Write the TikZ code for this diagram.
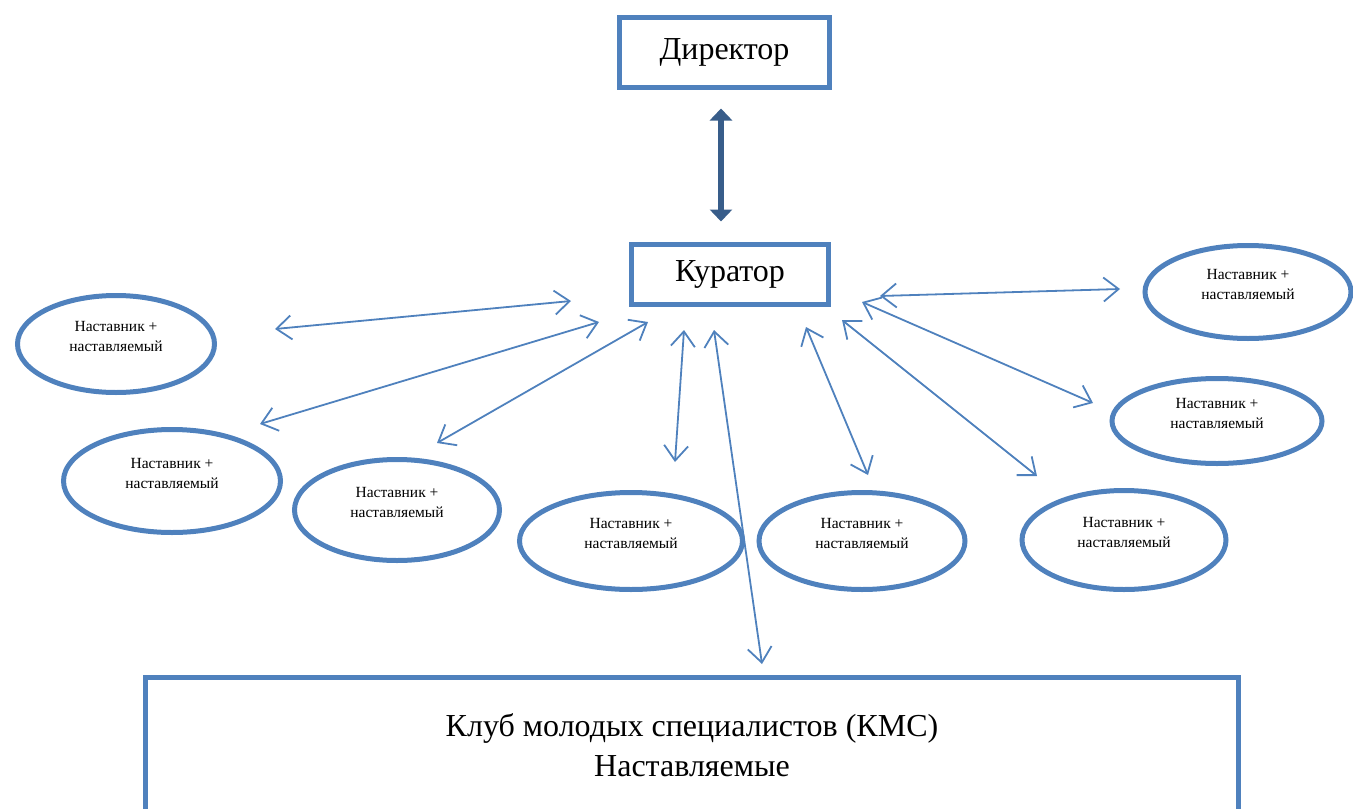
\documentclass[tikz,border=0pt]{standalone}
\usepackage{fontspec}
\setmainfont{Liberation Serif}
\usepackage{tikz}
\usetikzlibrary{arrows.meta,shapes.geometric}

\definecolor{ofblue}{HTML}{4F81BD}
\definecolor{ofdark}{HTML}{385D8A}

\begin{document}
\begin{tikzpicture}[x=1pt,y=1pt]
	\tikzstyle{every node}+=[inner sep=0pt]
	\tikzstyle{box}=[draw=ofblue, line width=5pt, rectangle, align=center, font=\fontsize{32}{40}\selectfont]
	\tikzstyle{pair}=[draw=ofblue, line width=5pt, ellipse, align=center, text depth=16pt, font=\fontsize{15.5}{20}\selectfont]
	\tikzstyle{link}=[draw=ofblue, line width=1.8pt, {Straight Barb[length=15pt,width=24pt]}-{Straight Barb[length=15pt,width=24pt]}]
	\tikzstyle{bigarrow}=[draw=ofdark, line width=6pt, {Triangle[length=12pt,width=22pt]}-{Triangle[length=12pt,width=22pt]}]
	\useasboundingbox (0,0) rectangle (1353,-809);
	% boxes
	\node [box, minimum width=210pt, minimum height=70pt] (dir) at (724.5,-52.5) {Директор};
	\node [box, minimum width=197pt, minimum height=60pt] (kur) at (730,-274.5) {Куратор};
	\node [box, minimum width=1093pt, minimum height=136pt] (kms) at (692,-745) {Клуб молодых специалистов (КМС)\\Наставляемые};
	\draw [bigarrow] ([xshift=-3.5pt,yshift=-18.5pt]dir.south) -- ([xshift=-9pt,yshift=20.5pt]kur.north);
	% pairs
	\node [pair, minimum width=197pt, minimum height=97pt] (p1) at (116,-344) {Наставник +\\наставляемый};
	\node [pair, minimum width=217pt, minimum height=103pt] (p2) at (172,-481) {Наставник +\\наставляемый};
	\node [pair, minimum width=205pt, minimum height=101pt] (p3) at (397,-510) {Наставник +\\наставляемый};
	\node [pair, minimum width=223pt, minimum height=97pt] (p4) at (631,-541) {Наставник +\\наставляемый};
	\node [pair, minimum width=206pt, minimum height=97pt] (p5) at (862,-541) {Наставник +\\наставляемый};
	\node [pair, minimum width=204pt, minimum height=99pt] (p6) at (1124,-540) {Наставник +\\наставляемый};
	\node [pair, minimum width=210pt, minimum height=85pt] (p7) at (1217,-421) {Наставник +\\наставляемый};
	\node [pair, minimum width=206pt, minimum height=93pt] (p8) at (1248,-292) {Наставник +\\наставляемый};
	% arrow ends
	\coordinate (a1) at (275,-329); \coordinate (b1) at (571,-301);
	\coordinate (a2) at (260,-424); \coordinate (b2) at (599,-322);
	\coordinate (a3) at (437,-443); \coordinate (b3) at (648,-322);
	\coordinate (a4) at (675,-462); \coordinate (b4) at (684,-330);
	\coordinate (a0) at (762,-664); \coordinate (b0) at (714,-330);
	\coordinate (a5) at (868,-475); \coordinate (b5) at (806,-327);
	\coordinate (a6) at (1037,-476); \coordinate (b6) at (842,-320);
	\coordinate (a7) at (1093,-403); \coordinate (b7) at (862,-302);
	\coordinate (a8) at (1120,-289); \coordinate (b8) at (880,-296);
	\foreach \i in {0,...,8}
		\draw [link] (a\i) -- (b\i);
\end{tikzpicture}
\end{document}
